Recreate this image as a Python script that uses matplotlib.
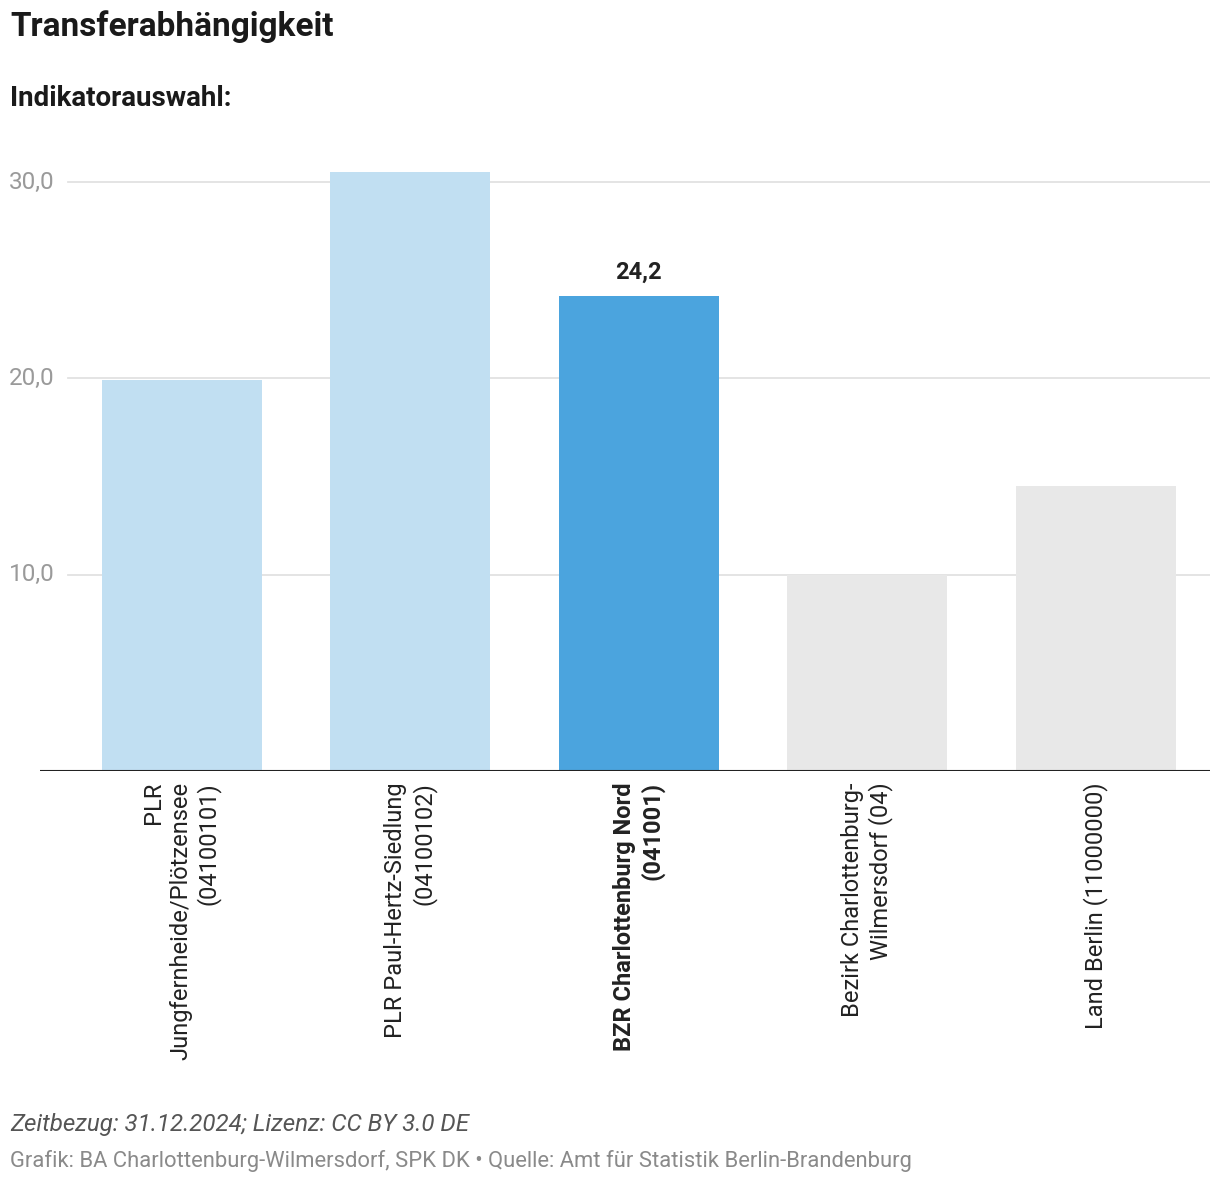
import matplotlib
matplotlib.use('Agg')
import matplotlib.pyplot as plt
import matplotlib.transforms as mtransforms

plt.rcParams['font.family'] = ['Roboto', 'DejaVu Sans']

CATEGORIES = [
    'PLR\nJungfernheide/Plötzensee\n(04100101)',
    'PLR Paul-Hertz-Siedlung\n(04100102)',
    'BZR Charlottenburg Nord\n(041001)',
    'Bezirk Charlottenburg-\nWilmersdorf (04)',
    'Land Berlin (11000000)',
]
VALUES = [19.9, 30.5, 24.2, 10.0, 14.5]
COLORS = ['#c1dff2', '#c1dff2', '#4ba4de', '#e8e8e8', '#e8e8e8']
HIGHLIGHT = 2
Y_TICKS = [10, 20, 30]

W, H = 1220, 1184
fig = plt.figure(figsize=(W / 100, H / 100), dpi=100)

# axes placed in pixel coordinates of the reference
left, right, bottom_px, ymax = 40, 1210, 771, 31
px_per_unit = (771 - 182) / 30
top_px = bottom_px - ymax * px_per_unit
ax = fig.add_axes([left / W, (H - bottom_px) / H, (right - left) / W, (bottom_px - top_px) / H])

x = range(len(VALUES))
ax.bar(x, VALUES, width=0.7, color=COLORS, zorder=2)
ax.set_xlim(-0.62, 4.5)
ax.set_ylim(0, ymax)

# grid lines and y labels
grid_start = (68 - left) / (right - left)
for t in Y_TICKS:
    ax.axhline(t, xmin=grid_start, xmax=1, color='#e2e2e2', lw=1.3, zorder=1)
    trans = mtransforms.blended_transform_factory(ax.transAxes, ax.transData)
    ax.text((55 - left) / (right - left), t, f'{t:.1f}'.replace('.', ','), transform=trans,
            ha='right', va='center', fontsize=17.5, color='#9a9a9a')

ax.axhline(0, color='#222222', lw=1.5, zorder=3)

# value label on highlighted bar
ax.text(HIGHLIGHT, VALUES[HIGHLIGHT] + 0.6, f'{VALUES[HIGHLIGHT]:.1f}'.replace('.', ','),
        ha='center', va='bottom', fontsize=17, fontweight='bold', color='#222222')

ax.set_xticks(list(x))
ax.set_xticklabels(CATEGORIES, rotation=90, ha='center', va='top', multialignment='right',
                   fontsize=17, color='#222222', linespacing=1.2)
ax.get_xticklabels()[HIGHLIGHT].set_fontweight('bold')
ax.tick_params(axis='x', length=0, pad=8)
ax.tick_params(axis='y', length=0, labelleft=False)
for s in ax.spines.values():
    s.set_visible(False)

fig.text(10 / W, 1 - 27 / H, 'Transferabhängigkeit', fontsize=24, fontweight='bold',
         color='#1a1a1a', va='center', ha='left')
fig.text(10 / W, 1 - 98 / H, 'Indikatorauswahl:', fontsize=20, fontweight='bold',
         color='#1a1a1a', va='center', ha='left')
fig.text(10 / W, 1 - 1124 / H, 'Zeitbezug: 31.12.2024; Lizenz: CC BY 3.0 DE', fontsize=17.4,
         style='italic', color='#555555', va='center', ha='left')
fig.text(10 / W, 1 - 1161 / H,
         'Grafik: BA Charlottenburg-Wilmersdorf, SPK DK • Quelle: Amt für Statistik Berlin-Brandenburg',
         fontsize=15.85, color='#8a8a8a', va='center', ha='left')

fig.savefig('out.png', dpi=100, facecolor='white')
